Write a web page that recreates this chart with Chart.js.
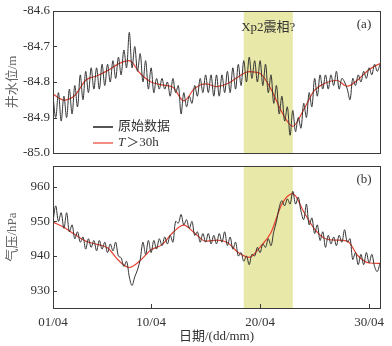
<!DOCTYPE html>
<html>
<head>
<meta charset="utf-8">
<script src="https://cdn.jsdelivr.net/npm/chart.js@4.4.1/dist/chart.umd.min.js"></script>
<style>
  html, body { margin: 0; padding: 0; background: #fff; }
  #wrap { position: relative; width: 392px; height: 346px; }
  canvas { position: absolute; left: 0; }
  #waterChart { top: 0; }
  #pressChart { top: 160px; }
</style>
</head>
<body>
<div id="wrap">
  <canvas id="waterChart" width="392" height="160"></canvas>
  <canvas id="pressChart" width="392" height="186"></canvas>
</div>
<script>
// raw series sampled every 6 h from 01/04 00:00, filtered series once a day
const rawStep = 0.25;
const firstDay = 1;

const waterRaw = [
  -84.84, -84.90, -84.83, -84.91,
  -84.84, -84.90, -84.82, -84.89,
  -84.81, -84.87, -84.78, -84.85,
  -84.77, -84.83, -84.76, -84.82,
  -84.76, -84.82, -84.75, -84.81,
  -84.75, -84.80, -84.74, -84.79,
  -84.73, -84.78, -84.71, -84.76,
  -84.66, -84.76, -84.70, -84.77,
  -84.72, -84.80, -84.74, -84.82,
  -84.76, -84.83, -84.79, -84.82,
  -84.79, -84.82, -84.80, -84.84,
  -84.79, -84.83, -84.81, -84.89,
  -84.83, -84.87, -84.84, -84.86,
  -84.81, -84.84, -84.79, -84.83,
  -84.78, -84.83, -84.78, -84.84,
  -84.78, -84.84, -84.78, -84.83,
  -84.77, -84.83, -84.76, -84.82,
  -84.75, -84.81, -84.74, -84.80,
  -84.73, -84.79, -84.74, -84.80,
  -84.74, -84.81, -84.75, -84.83,
  -84.78, -84.86, -84.81, -84.89,
  -84.84, -84.91, -84.87, -84.95,
  -84.88, -84.94, -84.90, -84.93,
  -84.86, -84.90, -84.83, -84.87,
  -84.79, -84.84, -84.78, -84.82,
  -84.78, -84.82, -84.78, -84.81,
  -84.77, -84.82, -84.79, -84.80,
  -84.82, -84.85, -84.79, -84.81,
  -84.78, -84.80, -84.77, -84.79,
  -84.76, -84.78, -84.75, -84.77,
  -84.75,
];

const waterFilt = [
  -84.834, -84.851, -84.838, -84.795, -84.783, -84.768, -84.749, -84.740,
  -84.776, -84.800, -84.808, -84.815, -84.853, -84.818, -84.805, -84.813,
  -84.805, -84.785, -84.771, -84.776, -84.820, -84.885, -84.925, -84.878,
  -84.823, -84.803, -84.795, -84.812, -84.793, -84.765, -84.748,
];

const pressRaw = [
  950.0, 954.5, 950.0, 952.5,
  948.0, 952.5, 947.0, 949.0,
  945.0, 947.0, 944.0, 945.5,
  942.0, 945.0, 942.5, 944.5,
  941.5, 944.5, 942.0, 944.0,
  941.0, 943.5, 941.5, 944.0,
  940.0, 939.5, 937.0, 938.5,
  934.0, 931.5, 934.0, 936.0,
  939.0, 944.0, 940.5, 944.5,
  941.0, 944.5, 942.0, 945.0,
  943.0, 945.5, 943.5, 946.0,
  944.0, 950.0, 949.5, 952.0,
  949.0, 950.5, 948.0, 950.0,
  946.0, 947.0, 944.0, 946.5,
  944.0, 946.5, 943.5, 946.0,
  943.5, 946.5, 944.0, 947.0,
  943.0, 945.5, 942.0, 944.0,
  940.0, 941.0, 938.5, 940.0,
  937.5, 940.5, 940.0, 942.5,
  941.0, 943.5, 942.5, 945.0,
  943.0, 947.0, 950.0, 954.0,
  956.0, 954.5, 956.5, 955.0,
  958.7, 955.0, 957.0, 953.0,
  950.5, 955.0, 949.0, 951.0,
  946.5, 949.0, 944.5, 947.0,
  942.5, 946.0, 943.5, 945.5,
  943.0, 946.0, 944.0, 947.6,
  944.0, 945.0, 939.0, 941.0,
  937.5, 940.5, 937.5, 941.0,
  938.0, 940.5, 937.0, 935.5,
  938.0,
];

const pressFilt = [
  949.8, 948.3, 946.2, 944.3, 943.4, 942.4, 938.8, 936.7,
  938.7, 941.8, 943.3, 946.8, 948.9, 946.6, 944.3, 944.6,
  943.9, 941.0, 939.6, 942.6, 946.8, 955.0, 958.0, 952.8,
  947.8, 945.0, 944.6, 944.3, 940.0, 938.0, 937.9,
];

const xTicks = [1, 10, 20, 30];
const pressTicks = [930, 940, 950, 960];
const bandStart = 18.5;
const bandEnd = 23;

const serif = "'Liberation Serif', 'Noto Sans CJK SC', serif";
const rawColor = '#333333';
const filtColor = '#e8412f';

const toRawPoints = (arr) => arr.map((v, i) => ({ x: firstDay + i * rawStep, y: v }));
const toDailyPoints = (arr) => arr.map((v, i) => ({ x: firstDay + i, y: v }));

const framePlugin = {
  id: 'frame',
  beforeDatasetsDraw(chart) {
    const { ctx, chartArea: a, scales: { x } } = chart;
    const x0 = x.getPixelForValue(bandStart);
    const x1 = x.getPixelForValue(bandEnd);
    ctx.save();
    ctx.fillStyle = '#e8e8a8';
    ctx.fillRect(x0, a.top, x1 - x0, a.bottom - a.top);
    ctx.restore();
  },
  afterDatasetsDraw(chart, args, opts) {
    const { ctx, chartArea: a, scales: { x, y } } = chart;
    ctx.save();
    ctx.strokeStyle = '#3a3a3a';
    ctx.lineWidth = 1;
    ctx.strokeRect(Math.round(a.left) + 0.5, Math.round(a.top) + 0.5,
      Math.round(a.right - a.left), Math.round(a.bottom - a.top));

    ctx.beginPath();
    y.ticks.forEach((t) => {
      const py = Math.round(y.getPixelForValue(t.value)) + 0.5;
      ctx.moveTo(a.left, py);
      ctx.lineTo(a.left + 4, py);
    });
    if (opts.xTicks) {
      x.ticks.forEach((t) => {
        const px = Math.round(x.getPixelForValue(t.value)) + 0.5;
        ctx.moveTo(px, a.bottom);
        ctx.lineTo(px, a.bottom - 4);
      });
    }
    ctx.stroke();

    ctx.fillStyle = '#333';
    ctx.textBaseline = 'middle';
    ctx.font = '13px ' + serif;
    ctx.textAlign = 'center';
    ctx.fillText(opts.tag, a.right - 16, a.top + 14);
    if (opts.bandLabel) {
      const bx = (x.getPixelForValue(bandStart) + x.getPixelForValue(bandEnd)) / 2;
      ctx.fillText(opts.bandLabel, bx, a.top + 17);
    }

    if (opts.legend) {
      const lx = a.left + 40;
      const rows = [a.bottom - 26, a.bottom - 10];
      chart.data.datasets.forEach((ds, i) => {
        const ly = rows[i];
        ctx.beginPath();
        ctx.strokeStyle = i === 0 ? '#555' : ds.borderColor;
        ctx.lineWidth = i === 0 ? 2 : 1.2;
        ctx.moveTo(lx, ly);
        ctx.lineTo(lx + 20, ly);
        ctx.stroke();
      });
      ctx.textAlign = 'left';
      ctx.font = '13px ' + serif;
      ctx.fillText('原始数据', lx + 25, rows[0]);
      ctx.font = 'italic 13px ' + serif;
      ctx.fillText('T', lx + 25, rows[1]);
      const tw = ctx.measureText('T').width;
      ctx.font = '13px ' + serif;
      ctx.fillText('＞30h', lx + 26 + tw, rows[1]);
    }
    ctx.restore();
  },
};

function yScale(min, max, title, decimals) {
  return {
    min,
    max,
    afterFit: (s) => {
      s.width = 53;
      s.paddingTop = 0;
      s.paddingBottom = 0;
    },
    grid: { display: false, drawTicks: false },
    border: { display: false },
    ticks: {
      font: { family: serif, size: 13 },
      color: '#333',
      padding: 3,
      stepSize: 0.1,
      callback: (v) => Number(v).toFixed(decimals),
    },
    title: {
      display: true,
      text: title,
      color: '#666',
      font: { family: serif, size: 13 },
      padding: { top: 5, bottom: 0 },
    },
  };
}

function lineDatasets(raw, filt) {
  return [
    {
      label: '原始数据',
      data: toRawPoints(raw),
      borderColor: rawColor,
      borderWidth: 1,
      pointRadius: 0,
      tension: 0.35,
    },
    {
      label: 'T>30h',
      data: toDailyPoints(filt),
      borderColor: filtColor,
      borderWidth: 1.2,
      pointRadius: 0,
      cubicInterpolationMode: 'monotone',
    },
  ];
}

new Chart(document.getElementById('waterChart'), {
  type: 'line',
  data: { datasets: lineDatasets(waterRaw, waterFilt) },
  options: {
    responsive: false,
    animation: false,
    layout: { padding: { top: 11, right: 12, bottom: 7, left: 0 } },
    plugins: {
      legend: { display: false },
      tooltip: { enabled: false },
      frame: { tag: '(a)', bandLabel: 'Xp2震相?', legend: true, xTicks: false },
    },
    scales: {
      x: { type: 'linear', min: 1, max: 31, display: false },
      y: yScale(-85.0, -84.6, '井水位/m', 1),
    },
  },
  plugins: [framePlugin],
});

const pressY = yScale(925, 966, '气压/hPa', 0);
pressY.afterBuildTicks = (s) => { s.ticks = pressTicks.map((v) => ({ value: v })); };

new Chart(document.getElementById('pressChart'), {
  type: 'line',
  data: { datasets: lineDatasets(pressRaw, pressFilt) },
  options: {
    responsive: false,
    animation: false,
    layout: { padding: { top: 6, right: 12, bottom: 0, left: 0 } },
    plugins: {
      legend: { display: false },
      tooltip: { enabled: false },
      frame: { tag: '(b)', xTicks: true },
    },
    scales: {
      x: {
        type: 'linear',
        min: 1,
        max: 31,
        afterBuildTicks: (s) => { s.ticks = xTicks.map((v) => ({ value: v })); },
        afterFit: (s) => {
          s.height = 38;
          s.paddingLeft = 0;
          s.paddingRight = 0;
        },
        grid: { display: false, drawTicks: false },
        border: { display: false },
        ticks: {
          font: { family: serif, size: 13 },
          color: '#333',
          padding: 7,
          maxRotation: 0,
          autoSkip: false,
          callback: (v) => String(v).padStart(2, '0') + '/04',
        },
        title: {
          display: true,
          text: '日期/(dd/mm)',
          color: '#333',
          font: { family: serif, size: 13 },
          padding: { top: 0, bottom: 2 },
        },
      },
      y: pressY,
    },
  },
  plugins: [framePlugin],
});
</script>
</body>
</html>
